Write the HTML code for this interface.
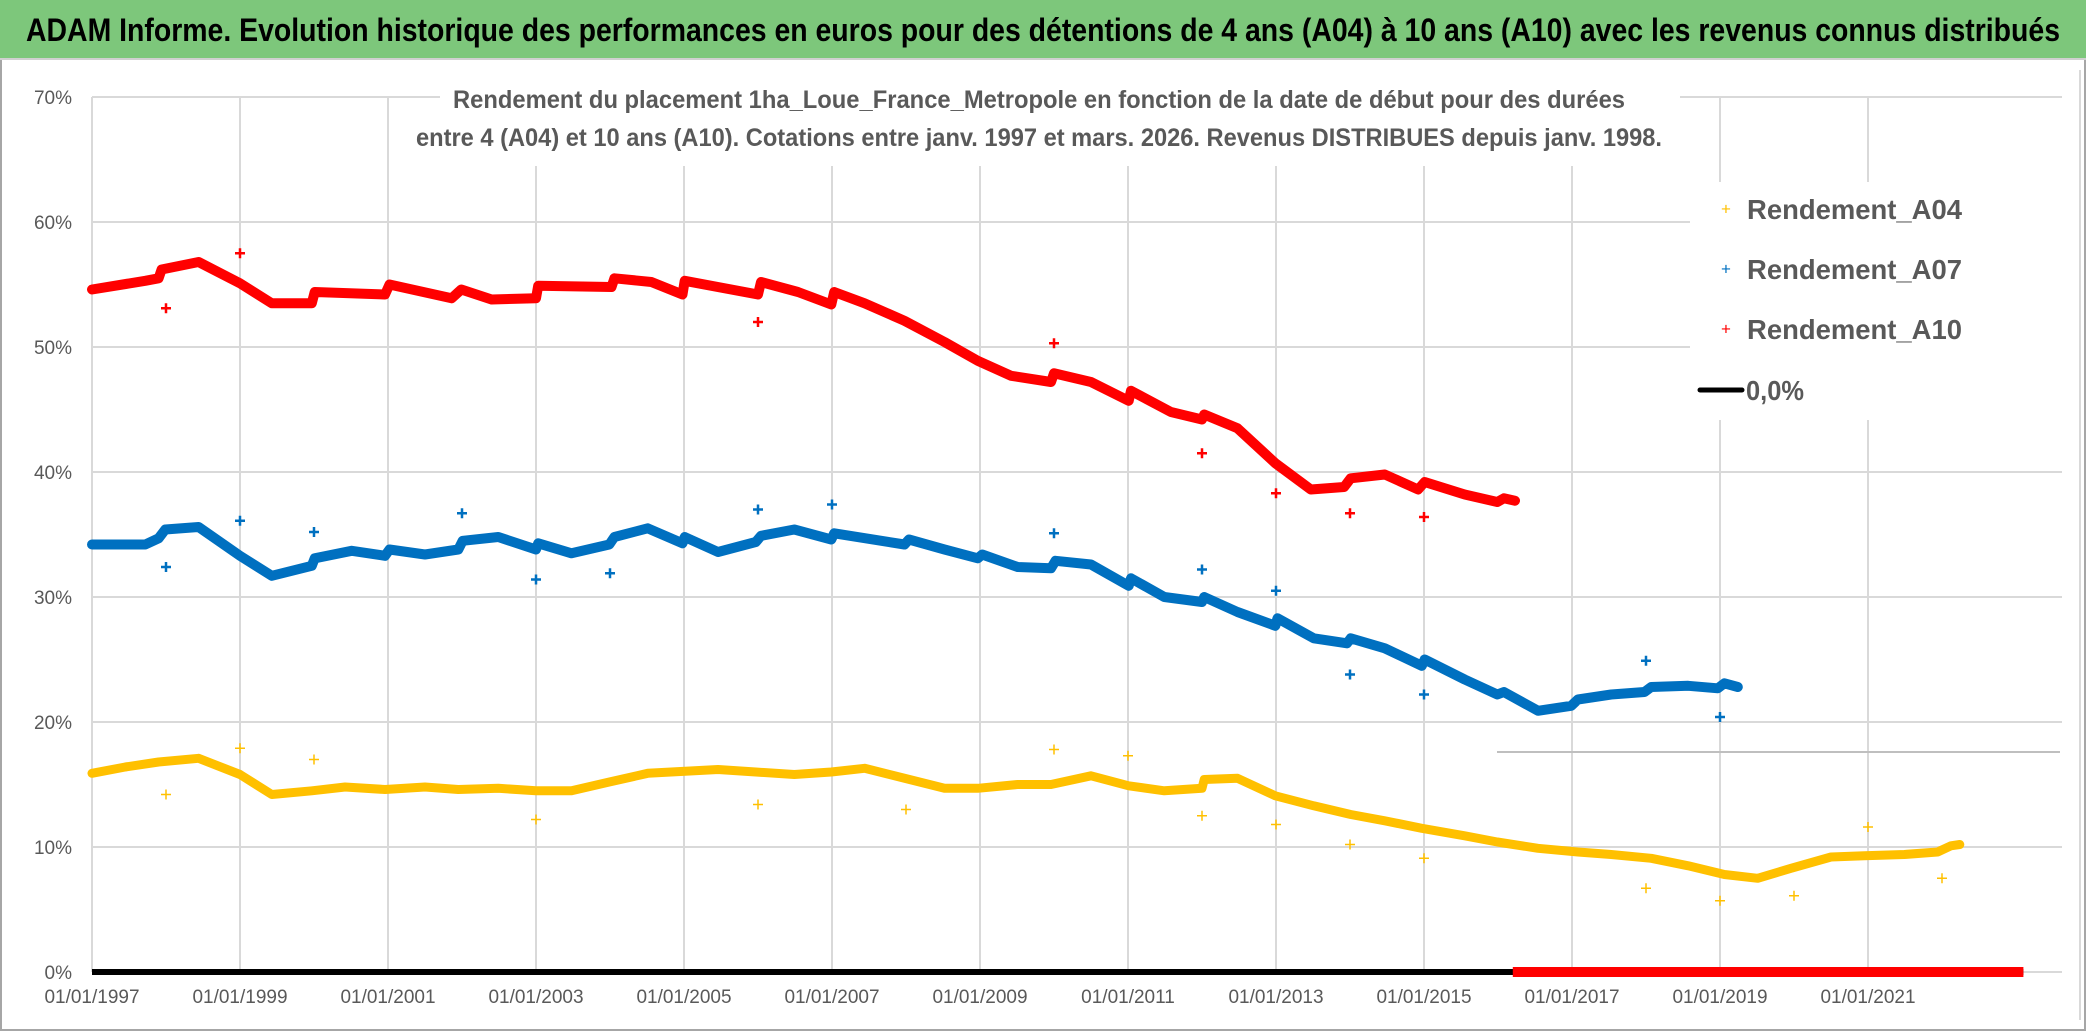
<!DOCTYPE html>
<html><head><meta charset="utf-8"><style>
html,body{margin:0;padding:0;background:#fff;}
svg{display:block;font-family:"Liberation Sans",sans-serif;}
</style></head><body>
<svg id="chart" width="2086" height="1031" viewBox="0 0 2086 1031" xmlns="http://www.w3.org/2000/svg">
<rect x="0" y="0" width="2086" height="1031" fill="#fff"/>
<rect x="1" y="1" width="2084" height="1029" fill="none" stroke="#a6a6a6" stroke-width="2"/>
<rect x="0" y="0" width="2086" height="58" fill="#7DC77B"/>
<line x1="0" y1="59" x2="2086" y2="59" stroke="#d0d0d0" stroke-width="2"/>
<text x="26" y="41" font-size="32" font-weight="bold" fill="#000" textLength="2034" lengthAdjust="spacingAndGlyphs">ADAM Informe. Evolution historique des performances en euros pour des détentions de 4 ans (A04) à 10 ans (A10) avec les revenus connus distribués</text>
<g id="grid"></g>
<g id="axes"></g>
<g id="series"></g>
<rect x="440" y="74" width="1240" height="92" fill="#fff"/>
<text x="1039" y="108" font-size="25" font-weight="bold" fill="#595959" text-anchor="middle" textLength="1172" lengthAdjust="spacingAndGlyphs">Rendement du placement 1ha_Loue_France_Metropole en fonction de la date de début pour des durées</text>
<text x="1039" y="146" font-size="25" font-weight="bold" fill="#595959" text-anchor="middle" textLength="1246" lengthAdjust="spacingAndGlyphs">entre 4 (A04) et 10 ans (A10). Cotations entre janv. 1997 et mars. 2026. Revenus DISTRIBUES depuis janv. 1998.</text>
<g>
<rect x="1690" y="182" width="380" height="238" fill="#fff"/>
<g><text x="1726" y="210" font-size="17" fill="#FFC000" text-anchor="middle" dominant-baseline="middle">+</text><text x="1747" y="219" font-size="28" font-weight="bold" fill="#595959" textLength="215" lengthAdjust="spacingAndGlyphs">Rendement_A04</text></g>
<g><text x="1726" y="270" font-size="17" fill="#0070C0" text-anchor="middle" dominant-baseline="middle">+</text><text x="1747" y="279" font-size="28" font-weight="bold" fill="#595959" textLength="215" lengthAdjust="spacingAndGlyphs">Rendement_A07</text></g>
<g><text x="1726" y="330" font-size="17" fill="#FF0000" text-anchor="middle" dominant-baseline="middle">+</text><text x="1747" y="339" font-size="28" font-weight="bold" fill="#595959" textLength="215" lengthAdjust="spacingAndGlyphs">Rendement_A10</text></g>
<g><line x1="1700" y1="390" x2="1742" y2="390" stroke="#000" stroke-width="5" stroke-linecap="round"/><text x="1746" y="400" font-size="28" font-weight="bold" fill="#595959" textLength="58" lengthAdjust="spacingAndGlyphs">0,0%</text></g>
</g>
</svg>
<script>
// ---- data (decimal year, percent) ----
const a10Dates = [1997.00,1997.72,1997.90,1997.94,1998.44,1999.00,1999.43,1999.97,2000.01,2000.96,2001.02,2001.86,2001.99,2002.40,2003.00,2003.03,2004.02,2004.06,2004.56,2004.98,2005.01,2006.00,2006.04,2006.54,2006.99,2007.03,2007.44,2007.98,2008.52,2008.97,2009.42,2009.96,2010.00,2010.50,2011.01,2011.04,2011.58,2012.00,2012.03,2012.48,2012.99,2013.47,2013.92,2014.01,2014.47,2014.92,2015.01,2015.55,2015.99,2016.08,2016.23];
const a10Values = [54.6,55.3,55.5,56.2,56.8,55.1,53.5,53.5,54.4,54.2,55.0,53.9,54.6,53.8,53.9,54.9,54.8,55.5,55.2,54.2,55.3,54.2,55.2,54.4,53.4,54.4,53.5,52.1,50.4,48.9,47.7,47.2,47.9,47.2,45.7,46.5,44.8,44.2,44.6,43.5,40.7,38.6,38.8,39.5,39.8,38.6,39.2,38.2,37.6,37.9,37.7];
const a10OutDates = [1998.0,1999.0,2006.0,2010.0,2012.0,2013.0,2014.0,2015.0];
const a10OutValues = [53.1,57.5,52.0,50.3,41.5,38.3,36.7,36.4];
const a10ZeroRange = [2016.2,2023.1];

const a07Dates = [1997.00,1997.72,1997.90,1997.99,1998.44,1999.00,1999.43,1999.97,2000.01,2000.51,2000.96,2001.02,2001.50,2001.95,2002.01,2002.49,2003.00,2003.03,2003.48,2003.99,2004.06,2004.51,2004.98,2005.01,2005.46,2005.97,2006.04,2006.49,2006.99,2007.03,2007.98,2008.04,2008.52,2008.97,2009.03,2009.51,2009.96,2010.02,2010.50,2011.01,2011.04,2011.49,2012.00,2012.03,2012.48,2012.99,2013.02,2013.51,2013.96,2014.01,2014.47,2014.97,2015.01,2015.55,2015.99,2016.08,2016.54,2016.99,2017.08,2017.53,2017.98,2018.07,2018.57,2018.97,2019.06,2019.24];
const a07Values = [34.2,34.2,34.7,35.4,35.6,33.3,31.7,32.5,33.1,33.7,33.3,33.8,33.4,33.8,34.5,34.8,33.8,34.3,33.5,34.2,34.8,35.5,34.3,34.8,33.6,34.4,34.9,35.4,34.6,35.1,34.2,34.6,33.8,33.1,33.4,32.4,32.3,32.9,32.6,30.9,31.5,30.0,29.6,30.0,28.8,27.7,28.3,26.7,26.3,26.7,25.9,24.5,25.0,23.4,22.2,22.4,20.9,21.3,21.8,22.2,22.4,22.8,22.9,22.7,23.1,22.8];
const a07OutDates = [1998.0,1999.0,2000.0,2002.0,2003.0,2004.0,2006.0,2007.0,2010.0,2012.0,2013.0,2014.0,2015.0,2018.0,2019.0];
const a07OutValues = [32.4,36.1,35.2,36.7,31.4,31.9,37.0,37.4,35.1,32.2,30.5,23.8,22.2,24.9,20.4];

const a04Dates = [1997.00,1997.45,1997.90,1998.44,1999.00,1999.43,1999.97,2000.42,2000.96,2001.50,2001.95,2002.49,2003.00,2003.48,2003.99,2004.51,2005.46,2005.97,2006.49,2006.99,2007.44,2007.98,2008.52,2008.97,2009.51,2009.96,2010.50,2011.01,2011.49,2012.00,2012.03,2012.48,2012.99,2013.51,2014.01,2014.47,2014.97,2015.55,2015.99,2016.54,2017.08,2017.53,2018.07,2018.57,2019.06,2019.51,2019.96,2020.50,2020.95,2021.49,2021.94,2022.12,2022.24];
const a04Values = [15.9,16.4,16.8,17.1,15.8,14.2,14.5,14.8,14.6,14.8,14.6,14.7,14.5,14.5,15.2,15.9,16.2,16.0,15.8,16.0,16.3,15.5,14.7,14.7,15.0,15.0,15.7,14.9,14.5,14.7,15.4,15.5,14.1,13.3,12.6,12.1,11.5,10.9,10.4,9.9,9.6,9.4,9.1,8.5,7.8,7.5,8.3,9.2,9.3,9.4,9.6,10.1,10.2];
const a04OutDates = [1998.0,1999.0,2000.0,2003.0,2006.0,2008.0,2010.0,2011.0,2012.0,2013.0,2014.0,2015.0,2018.0,2019.0,2020.0,2021.0,2022.0];
const a04OutValues = [14.2,17.9,17.0,12.2,13.4,13.0,17.8,17.3,12.5,11.8,10.2,9.1,6.7,5.7,6.1,11.6,7.5];

const yTicks = [0,10,20,30,40,50,60,70];
const yTickLabels = ["0%","10%","20%","30%","40%","50%","60%","70%"];
const xTicks = [1997,1999,2001,2003,2005,2007,2009,2011,2013,2015,2017,2019,2021];
const xTickLabels = ["01/01/1997","01/01/1999","01/01/2001","01/01/2003","01/01/2005","01/01/2007","01/01/2009","01/01/2011","01/01/2013","01/01/2015","01/01/2017","01/01/2019","01/01/2021"];

// ---- axis functions ----
const NS = "http://www.w3.org/2000/svg";
const X0 = 92, YEARPX = 74, Y0 = 972, PCTPX = 12.5, PLOT_R = 2062;
function xs(yr){ return X0 + (yr - 1997) * YEARPX; }
function ys(v){ return Y0 - v * PCTPX; }
function mk(tag, attrs, parent){ const e = document.createElementNS(NS, tag); for (const k in attrs) e.setAttribute(k, attrs[k]); parent.appendChild(e); return e; }

const grid = document.getElementById('grid');
const axes = document.getElementById('axes');
const series = document.getElementById('series');

yTicks.forEach((t, i) => {
  const l = mk('line', {x1: X0, x2: PLOT_R, y1: ys(t), y2: ys(t), stroke: '#d9d9d9', 'stroke-width': 2}, grid);
  
  
  const tx = mk('text', {x: 72, y: ys(t) + 7, 'font-size': 19, fill: '#595959', 'text-anchor': 'end'}, axes);
  tx.textContent = yTickLabels[i];
  
  
});
xTicks.forEach((t, i) => {
  const l = mk('line', {x1: xs(t), x2: xs(t), y1: ys(70), y2: Y0, stroke: '#d9d9d9', 'stroke-width': 2}, grid);
  
  
  const tx = mk('text', {x: xs(t), y: 1003, 'font-size': 19, fill: '#595959', 'text-anchor': 'middle'}, axes);
  tx.textContent = xTickLabels[i];
  
  
});
const extra = mk('line', {x1: 1497, x2: 2060, y1: 752, y2: 752, stroke: '#bfbfbf', 'stroke-width': 2}, grid);


const rEdge = mk('line', {x1: 2080, x2: 2080, y1: 70, y2: 1020, stroke: '#d9d9d9', 'stroke-width': 2}, grid);



const zero = mk('line', {x1: X0, x2: xs(a10ZeroRange[1]), y1: ys(0), y2: ys(0), stroke: '#000', 'stroke-width': 6}, series);



function drawSeries(dates, vals, color, w, name){
  const pts = dates.map((d, i) => xs(d).toFixed(1) + ',' + ys(vals[i]).toFixed(1)).join(' ');
  const p = mk('polyline', {points: pts, fill: 'none', stroke: color, 'stroke-width': w, 'stroke-linejoin': 'round', 'stroke-linecap': 'round'}, series);
  
  
}
function drawCross(d, v, color, s, sw, name){
  const x = xs(d), y = ys(v);
  const g = mk('path', {d: `M${x-s},${y}H${x+s}M${x},${y-s}V${y+s}`, stroke: color, 'stroke-width': sw}, series);
  
  
}
drawSeries(a04Dates, a04Values, '#FFC000', 9, 'a04');
drawSeries(a07Dates, a07Values, '#0070C0', 10, 'a07');
drawSeries(a10Dates, a10Values, '#FF0000', 10, 'a10');
a04OutDates.forEach((d, i) => drawCross(d, a04OutValues[i], '#FFC000', 5, 1.5, 'a04-outlier'));
a07OutDates.forEach((d, i) => drawCross(d, a07OutValues[i], '#0070C0', 5, 2.5, 'a07-outlier'));
a10OutDates.forEach((d, i) => drawCross(d, a10OutValues[i], '#FF0000', 5, 2.5, 'a10-outlier'));
const rz = mk('line', {x1: xs(a10ZeroRange[0]), x2: xs(a10ZeroRange[1]), y1: ys(0), y2: ys(0), stroke: '#FF0000', 'stroke-width': 10}, series);


</script>
</body></html>
